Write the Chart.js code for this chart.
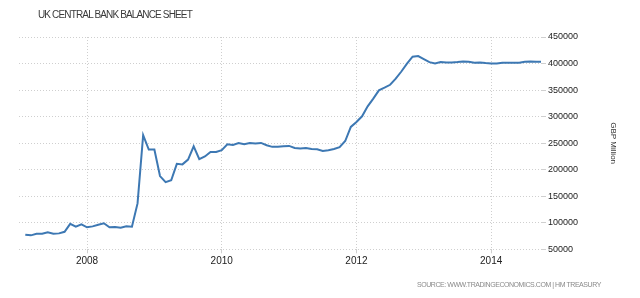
<!DOCTYPE html>
<html>
<head>
<meta charset="utf-8">
<script src="https://cdn.jsdelivr.net/npm/chart.js@4"></script>
<style>
  html, body { margin: 0; padding: 0; background: #fff; }
  #wrap { position: relative; width: 640px; height: 298px; }
  #title { position: absolute; left: 38px; top: 9px; font: 10px "Liberation Sans", Arial, sans-serif; color: #3a3a3a; letter-spacing: -0.85px; white-space: nowrap; }
  #source { position: absolute; left: 417px; top: 281px; font: 7px "Liberation Sans", Arial, sans-serif; color: #8a8a8a; letter-spacing: -0.45px; white-space: nowrap; }
</style>
</head>
<body>
<div id="wrap">
  <canvas id="c" width="640" height="298"></canvas>
  <div id="title">UK CENTRAL BANK BALANCE SHEET</div>
  <div id="source">SOURCE: WWW.TRADINGECONOMICS.COM | HM TREASURY</div>
</div>
<script>
// Monthly observations, Jan 2007 .. Sep 2014 (GBP Million)
const startYear = 2007;
const startMonth = 1;
const values = [
  77500, 76300, 79300, 79300, 82000, 79300, 80000, 83000, 98000, 92500, 97000, 91400,
  93200, 96300, 99000, 91400, 92000, 90600, 93200, 92500, 136500, 265000, 238000, 238000,
  188000, 176500, 180000, 211000, 210000, 219000, 244000, 220000, 225000, 233500, 233500, 236700,
  248000, 246700, 250400, 248000, 250400, 249300, 250400, 246000, 243000, 243000, 244000, 244800,
  241000, 240000, 241000, 239000, 238600, 235400, 236700, 239000, 242300, 254000, 280500, 290000,
  300600, 319400, 334000, 349500, 354600, 360000, 371500, 385000, 399700, 413000, 414000, 408300,
  402700, 400200, 402700, 402000, 402000, 402700, 404000, 403400, 401500, 402000, 400800, 400200,
  400200, 401500, 401500, 401500, 401500, 403400, 404000, 403400, 403400
];
const xTickYears = [2008, 2010, 2012, 2014];
const yTicks = [50000, 100000, 150000, 200000, 250000, 300000, 350000, 400000, 450000];
const yAxisTitle = 'GBP Million';

// observations are dated at month end
const points = values.map((v, i) => ({ x: startYear + (startMonth - 1 + i + 1) / 12, y: v }));

new Chart(document.getElementById('c'), {
  type: 'line',
  data: {
    datasets: [{
      data: points,
      borderColor: '#3d78b3',
      borderWidth: 2,
      pointRadius: 0,
      tension: 0,
      fill: false
    }]
  },
  options: {
    responsive: false,
    animation: false,
    layout: { padding: { left: 19, right: 0, top: 37, bottom: 0 } },
    plugins: { legend: { display: false }, tooltip: { enabled: false } },
    scales: {
      x: {
        type: 'linear',
        min: 2006.99,
        max: 2014.74,
        afterBuildTicks: s => { s.ticks = xTickYears.map(v => ({ value: v })); },
        afterFit: s => { s.height = 48.7; },
        grid: { color: '#cfcfcf', lineWidth: 1, tickLength: 4, drawTicks: true },
        border: { display: false, dash: [1, 2] },
        ticks: { color: '#222', font: { family: 'Liberation Sans', size: 10 }, padding: 2, maxRotation: 0, callback: v => String(v) }
      },
      y: {
        position: 'right',
        min: 50000,
        max: 450000,
        afterBuildTicks: s => { s.ticks = yTicks.map(v => ({ value: v })); },
        afterFit: s => { s.width = 99; },
        grid: { color: '#cfcfcf', lineWidth: 1, tickLength: 5 },
        border: { display: false, dash: [1, 2] },
        ticks: { color: '#222', font: { family: 'Liberation Sans', size: 9 }, padding: 2, callback: v => String(v) },
        title: { display: true, text: yAxisTitle, color: '#333', font: { family: 'Liberation Sans', size: 8 }, padding: { top: 22, bottom: 0 } }
      }
    }
  }
});
</script>
</body>
</html>
